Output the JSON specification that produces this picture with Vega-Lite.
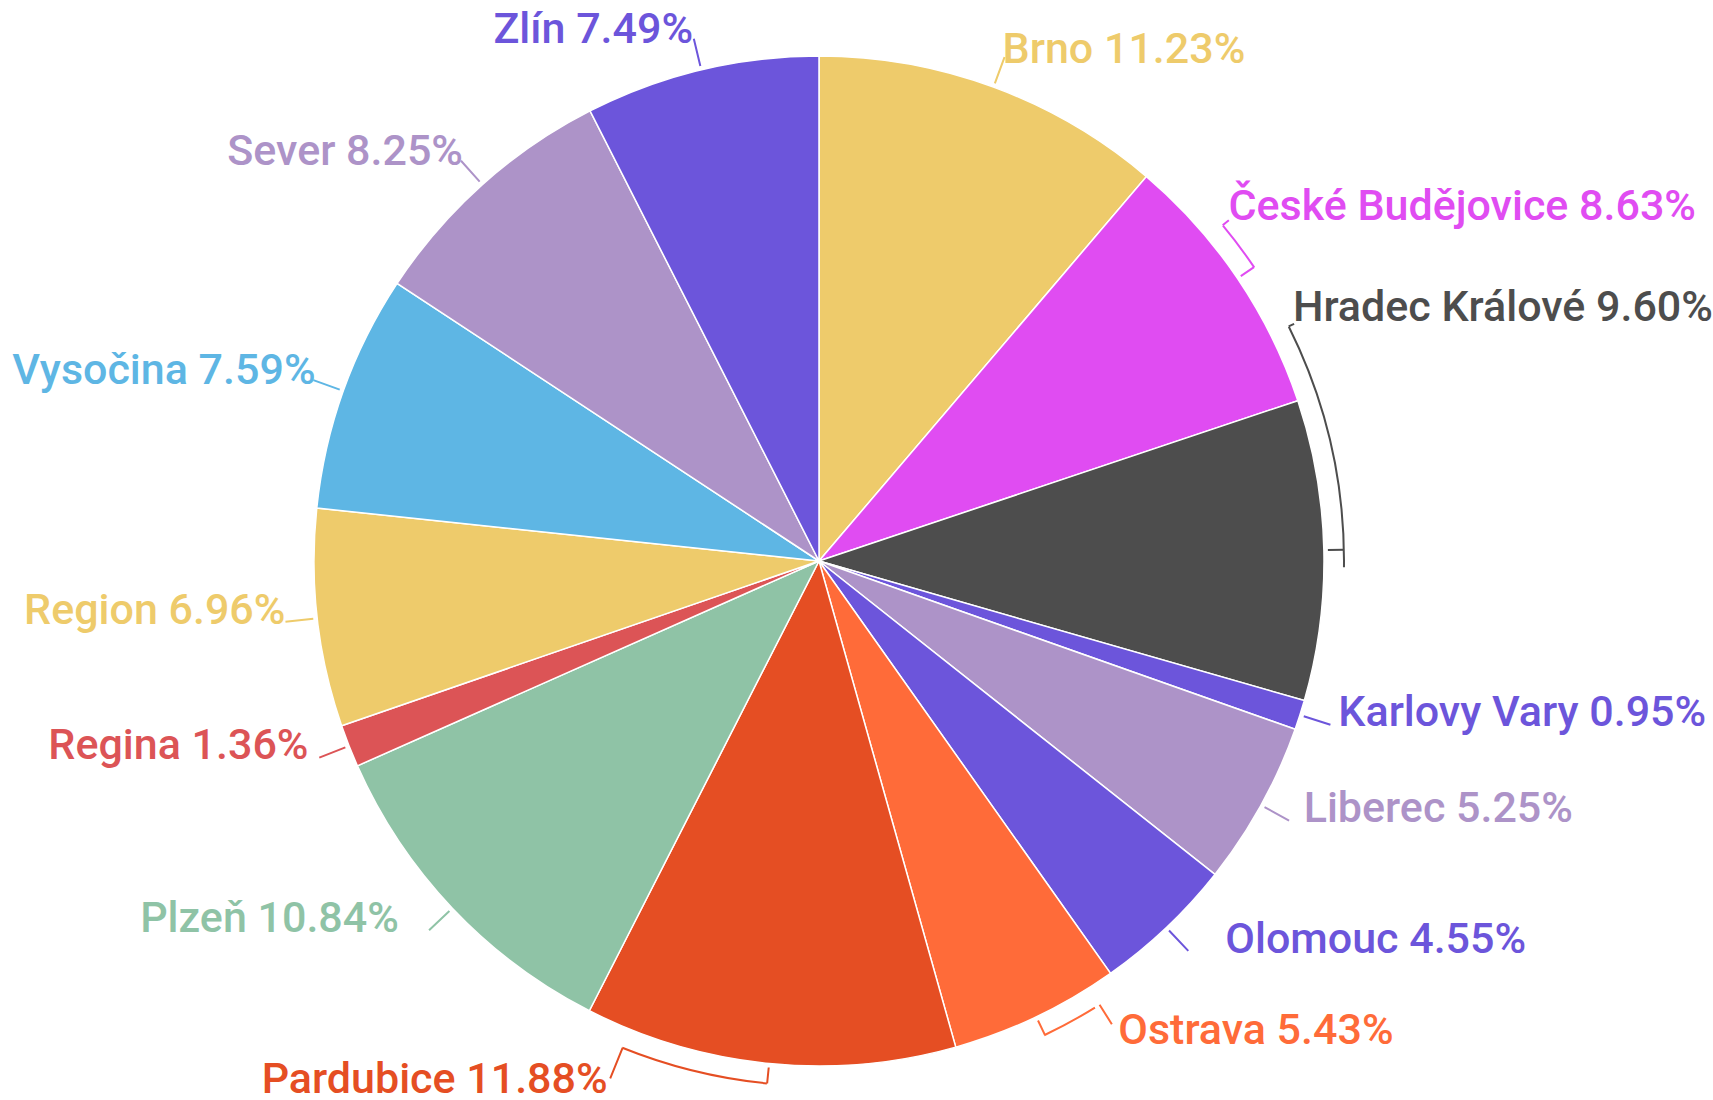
{
  "$schema": "https://vega.github.io/schema/vega-lite/v6.json",
  "width": 1638,
  "height": 1078,
  "autosize": "none",
  "padding": {"left": 0, "right": 75, "top": 22, "bottom": 0},
  "background": "#ffffff",
  "config": {"view": {"stroke": null}},
  "data": {
    "values": [
      {"rank": 1, "region": "Brno", "share": 11.23},
      {"rank": 2, "region": "České Budějovice", "share": 8.63},
      {"rank": 3, "region": "Hradec Králové", "share": 9.60},
      {"rank": 4, "region": "Karlovy Vary", "share": 0.95},
      {"rank": 5, "region": "Liberec", "share": 5.25},
      {"rank": 6, "region": "Olomouc", "share": 4.55},
      {"rank": 7, "region": "Ostrava", "share": 5.43},
      {"rank": 8, "region": "Pardubice", "share": 11.88},
      {"rank": 9, "region": "Plzeň", "share": 10.84},
      {"rank": 10, "region": "Regina", "share": 1.36},
      {"rank": 11, "region": "Region", "share": 6.96},
      {"rank": 12, "region": "Vysočina", "share": 7.59},
      {"rank": 13, "region": "Sever", "share": 8.25},
      {"rank": 14, "region": "Zlín", "share": 7.49}
    ]
  },
  "encoding": {
    "theta": {"field": "share", "type": "quantitative", "stack": true},
    "order": {"field": "rank", "type": "quantitative"},
    "color": {
      "field": "region",
      "type": "nominal",
      "legend": null,
      "scale": {
        "domain": ["Brno", "České Budějovice", "Hradec Králové", "Karlovy Vary", "Liberec", "Olomouc", "Ostrava", "Pardubice", "Plzeň", "Regina", "Region", "Vysočina", "Sever", "Zlín"],
        "range": ["#EECB6B", "#E04CF2", "#4D4D4D", "#6C55DB", "#AD93C8", "#6C55DB", "#FF6B39", "#E54E23", "#8FC3A6", "#DC5456", "#EECB6B", "#5EB6E4", "#AD93C8", "#6C55DB"]
      }
    }
  },
  "layer": [
    {
      "mark": {"type": "arc", "radius": 505, "stroke": "#ffffff", "strokeWidth": 1.5}
    },
    {
      "mark": {
        "type": "arc",
        "radius": {"expr": "indexof(['České Budějovice','Hradec Králové','Ostrava','Pardubice'], datum.region) >= 0 ? 525 : 537"},
        "radius2": 509,
        "padAngle": 3,
        "filled": false,
        "strokeWidth": 2
      }
    },
    {
      "mark": {
        "type": "arc",
        "radius": 525,
        "radius2": 525,
        "filled": false,
        "strokeWidth": 2,
        "strokeOpacity": {"expr": "indexof(['České Budějovice','Hradec Králové','Ostrava','Pardubice'], datum.region) >= 0 ? 1 : 0"},
        "thetaOffset": {"expr": "datum.region == 'České Budějovice' ? -0.049 : datum.region == 'Hradec Králové' ? -0.2037 : datum.region == 'Ostrava' ? -0.0536 : datum.region == 'Pardubice' ? 0.1428 : 0"},
        "padAngle": {"expr": "datum.region == 'České Budějovice' ? 0.3119 : datum.region == 'Hradec Králové' ? 0.0908 : datum.region == 'Ostrava' ? 0.1632 : datum.region == 'Pardubice' ? 0.3251 : 0"}
      }
    },
    {
      "mark": {
        "type": "arc",
        "radius": {"expr": "datum.region == 'České Budějovice' ? 533 : datum.region == 'Hradec Králové' ? 531 : datum.region == 'Ostrava' ? 548 : datum.region == 'Pardubice' ? 558 : 525"},
        "radius2": 525,
        "padAngle": 3,
        "filled": false,
        "strokeWidth": 2,
        "strokeOpacity": {"expr": "indexof(['České Budějovice','Hradec Králové','Ostrava','Pardubice'], datum.region) >= 0 ? 1 : 0"},
        "thetaOffset": {"expr": "datum.region == 'České Budějovice' ? -0.0995 : datum.region == 'Hradec Králové' ? -0.4416 : datum.region == 'Ostrava' ? -0.119 : datum.region == 'Pardubice' ? 0.2845 : 0"}
      }
    },
    {
      "mark": {
        "type": "text",
        "radius": 540,
        "baseline": "alphabetic",
        "font": "Roboto",
        "fontSize": 43,
        "fontWeight": 500,
        "align": {"expr": "indexof(['Pardubice','Plzeň','Regina','Region','Vysočina','Sever','Zlín'], datum.region) >= 0 ? 'right' : 'left'"},
        "dx": {"expr": "datum.region == 'Brno' ? -3 : datum.region == 'České Budějovice' ? -38 : datum.region == 'Hradec Králové' ? -66 : datum.region == 'Karlovy Vary' ? 5 : datum.region == 'Liberec' ? 12 : datum.region == 'Olomouc' ? 35 : datum.region == 'Ostrava' ? 67 : datum.region == 'Pardubice' ? -158 : datum.region == 'Plzeň' ? -28 : datum.region == 'Regina' ? -8 : datum.region == 'Vysočina' ? 5 : datum.region == 'Region' ? 3 : datum.region == 'Sever' ? 4 : 0"},
        "dy": {"expr": "datum.region == 'Brno' ? 9 : datum.region == 'České Budějovice' ? -39 : datum.region == 'Hradec Králové' ? -228 : datum.region == 'Ostrava' ? -4 : datum.region == 'Pardubice' ? -5 : datum.region == 'Region' ? 2 : datum.region == 'Vysočina' ? 5 : datum.region == 'Sever' ? 6 : datum.region == 'Zlín' ? 7 : 0"},
        "text": {"expr": "datum.region + ' ' + format(datum.share, '.2f') + '%'"}
      }
    }
  ]
}
